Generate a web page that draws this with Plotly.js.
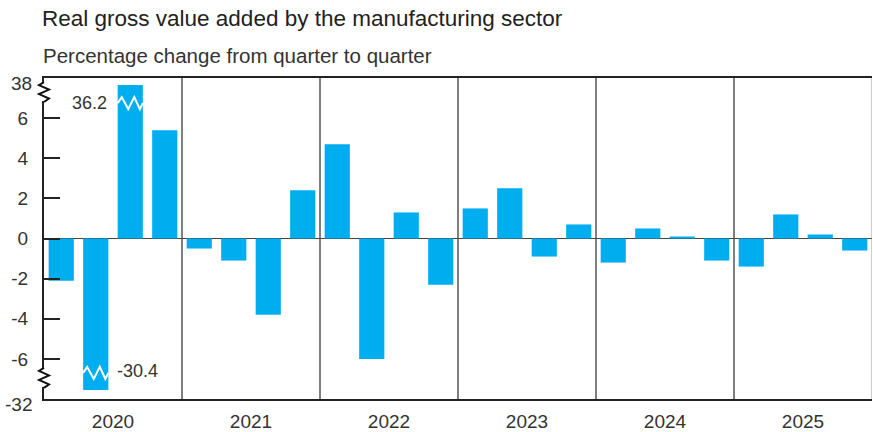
<!DOCTYPE html>
<html><head><meta charset="utf-8">
<script src="https://cdn.plot.ly/plotly-3.0.1.min.js"></script>
<style>body{margin:0;background:#fff}#chart{width:873px;height:432px}</style>
</head><body><div id="chart"></div>
<script>
// ---- data ----
const quarters = ['2020 Q1','2020 Q2','2020 Q3','2020 Q4','2021 Q1','2021 Q2','2021 Q3','2021 Q4',
  '2022 Q1','2022 Q2','2022 Q3','2022 Q4','2023 Q1','2023 Q2','2023 Q3','2023 Q4',
  '2024 Q1','2024 Q2','2024 Q3','2024 Q4','2025 Q1','2025 Q2','2025 Q3','2025 Q4'];
const years = ['2020','2021','2022','2023','2024','2025'];
const values = [-2.1, -30.4, 36.2, 5.4, -0.5, -1.1, -3.8, 2.4,
  4.7, -6.0, 1.3, -2.3, 1.5, 2.5, -0.9, 0.7,
  -1.2, 0.5, 0.1, -1.1, -1.4, 1.2, 0.2, -0.6];
const yTickVals = [-8, -6, -4, -2, 0, 2, 4, 6, 8];
const yTickText = ['-32', '-6', '-4', '-2', '0', '2', '4', '6', '38'];
const breakTop = 7.65, breakBottom = -7.55;   // where truncated bars stop on the broken axis

// ---- derived ----
const xs = values.map((_, i) => i);
const shown = values.map(v => Math.max(breakBottom, Math.min(breakTop, v)));
const bargap = 0.27, bw = 1 - bargap;
const yearCenters = years.map((_, k) => 4 * k + 1.5);
const BLUE = '#00AEEF', TXT = '#333333';
const font = 'Liberation Sans, Arial, sans-serif';
const TICK = 19;

const shapes = [];
// year dividers
for (let k = 1; k < years.length; k++) {
  shapes.push({type: 'line', xref: 'x', yref: 'paper', x0: 4 * k - 0.5, x1: 4 * k - 0.5, y0: 0, y1: 1,
    line: {color: '#555', width: 1.5}, layer: 'above'});
}
// right border
shapes.push({type: 'line', xref: 'x', yref: 'paper', x0: xs.length - 0.5, x1: xs.length - 0.5, y0: 0, y1: 1,
  line: {color: '#999', width: 1}, layer: 'above'});

// zigzags on truncated bars
values.forEach((v, i) => {
  if (v !== shown[i]) {
    const l = i - bw / 2, w = bw;
    const yA = v > 0 ? 6.75 : -6.7;
    const pts = [[0, 0], [0.16, 6], [0.42, -6], [0.66, 6], [0.88, -6], [1, 0]];
    const p = pts.map((q, j) => (j ? 'L' : 'M') + (l + q[0] * w) + ',' + q[1]).join(' ');
    shapes.push({type: 'path', xref: 'x', yref: 'y', ysizemode: 'pixel', yanchor: yA, path: p,
      line: {color: '#fff', width: 2}, layer: 'above'});
  }
});
// axis breaks on left axis
[7.3, -6.95].forEach(yb => {
  shapes.push({type: 'rect', xref: 'paper', yref: 'y', xsizemode: 'pixel', ysizemode: 'pixel',
    xanchor: 0, yanchor: yb, x0: -3, x1: 3, y0: -9, y1: 9, line: {width: 0}, fillcolor: '#fff', layer: 'above'});
  shapes.push({type: 'path', xref: 'paper', yref: 'y', xsizemode: 'pixel', ysizemode: 'pixel',
    xanchor: 0, yanchor: yb, path: 'M0,10 L-5,7 L5,2.5 L-5,-2 L5,-6.5 L0,-10',
    line: {color: '#111', width: 2}, layer: 'above'});
});

const annotations = [
  {xref: 'paper', yref: 'paper', x: 0, y: 1, xanchor: 'left', yanchor: 'middle', xshift: -3, yshift: 23,
   text: 'Percentage change from quarter to quarter', showarrow: false, font: {family: font, size: 20.5, color: TXT}},
];
// end labels of the broken axis, set a little below their ticks as in the source
[0, yTickVals.length - 1].forEach(j => {
  annotations.push({xref: 'paper', yref: 'y', x: 0, y: yTickVals[j], xanchor: 'right', yanchor: 'middle',
    xshift: -10, yshift: -5, text: yTickText[j], showarrow: false, font: {family: font, size: TICK, color: TXT}});
});
values.forEach((v, i) => {
  if (v !== shown[i]) {
    annotations.push({xref: 'x', yref: 'y', x: v > 0 ? i - bw / 2 : i + bw / 2, y: v > 0 ? 6.75 : -6.6,
      xanchor: v > 0 ? 'right' : 'left', yanchor: 'middle', xshift: v > 0 ? -9 : 7,
      text: String(v), showarrow: false, font: {family: font, size: 18, color: TXT}});
  }
});

const trace = {type: 'bar', x: xs, y: shown, marker: {color: BLUE, line: {width: 0}},
  hovertext: quarters.map((q, i) => q + ': ' + values[i]), hoverinfo: 'text'};

const layout = {
  width: 873, height: 432,
  margin: {l: 44, r: 1, t: 78, b: 33},
  paper_bgcolor: '#fff', plot_bgcolor: '#fff',
  bargap: bargap, showlegend: false,
  title: {text: 'Real gross value added by the manufacturing sector', x: 42 / 873, xanchor: 'left',
    y: 1 - 18 / 432, yanchor: 'middle', font: {family: font, size: 22.5, color: '#222'}},
  xaxis: {range: [-0.5, xs.length - 0.5], tickvals: yearCenters, ticktext: years, ticks: '',
    showgrid: false, zeroline: false, showline: true, mirror: true, linecolor: '#222', linewidth: 2,
    ticklabelstandoff: 4,
    tickfont: {family: font, size: TICK, color: TXT}, fixedrange: true},
  yaxis: {range: [-8, 8], tickvals: yTickVals, ticktext: yTickText.map((t, j) => (j === 0 || j === yTickText.length - 1) ? '' : t),
    ticks: 'inside', ticklen: 16, ticklabelstandoff: 10,
    tickwidth: 2, tickcolor: '#222', showgrid: false, zeroline: true, zerolinecolor: '#444', zerolinewidth: 1.5,
    showline: true, linecolor: '#222', linewidth: 2, tickfont: {family: font, size: TICK, color: TXT},
    fixedrange: true},
  shapes: shapes, annotations: annotations
};
Plotly.newPlot('chart', [trace], layout, {displayModeBar: false, staticPlot: true});
</script></body></html>
